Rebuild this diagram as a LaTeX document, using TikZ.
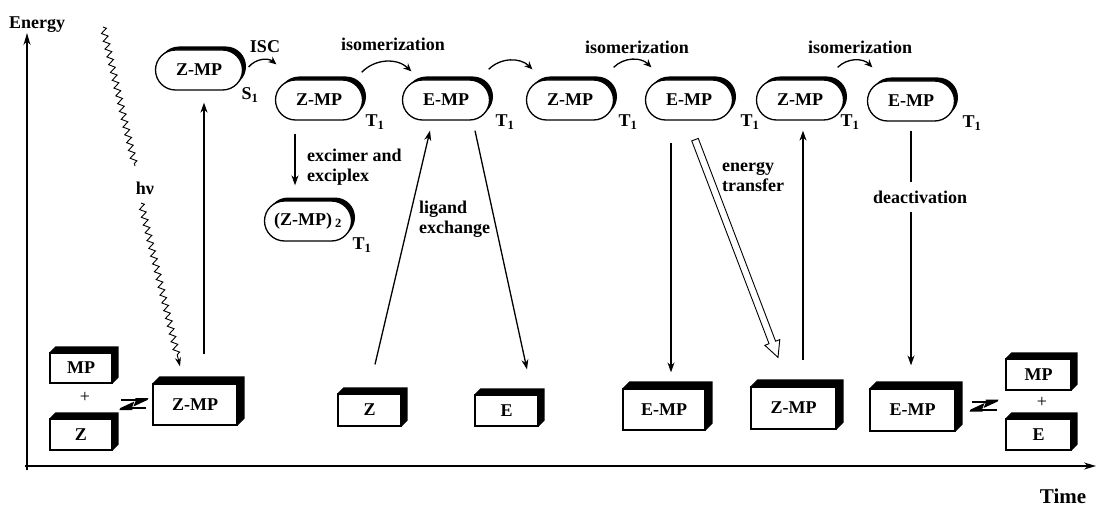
\documentclass[tikz,border=0pt]{standalone}
\usepackage{fontspec}
\setmainfont{Liberation Serif}
\usetikzlibrary{arrows.meta,calc,shadows,decorations.pathmorphing}
\newcommand\boxdepth[2]{\fill (#1.north west) -- ++(#2,-#2) -- ([shift={(#2,-#2)}]#1.north east) -- ([shift={(#2,-#2)}]#1.south east) -- (#1.south east) -- (#1.north east) -- cycle;}
\newcommand\harpoonpair[2]{%
  \draw[line width=2pt] (#1) -- ([shift={(-4,0)}]#2);
  \fill ([shift={(1,0)}]#2) -- ++(-14,6.5) -- ++(3,-7.5) -- ++(-1,0) -- ++(0,-1) -- ++(13,0) -- cycle;
  \draw[line width=2pt] ([shift={(0,8)}]#2) -- ([shift={(4,8)}]#1);
  \fill ([shift={(-1,8)}]#1) -- ++(14,-6.5) -- ++(-3,7.5) -- ++(1,0) -- ++(0,1) -- ++(-13,0) -- cycle;}
\begin{document}
\begin{tikzpicture}[x=1pt,y=-1pt,
  every node/.style={font=\bfseries\fontsize{18}{20}\selectfont, inner sep=0pt},
  pill/.style={draw, line width=1.3pt, fill=white, rounded corners=20pt, minimum width=87pt, minimum height=40pt,
    drop shadow={shadow xshift=3.5pt, shadow yshift=3.5pt, fill=black, opacity=1}},
  cube/.style={draw, line width=1.2pt, fill=white},
  arr/.style={line width=1.3pt, -{Stealth[length=10pt,width=7pt]}},
  carr/.style={line width=1.3pt, -{Stealth[length=8pt,width=7pt]}, bend left=45},
  wave/.style={line width=0.9pt, decorate, decoration={zigzag, segment length=8pt, amplitude=3pt}},
  lbl/.style={align=left, anchor=west},
]
\useasboundingbox (0,0) rectangle (1097,508);

% axes
\coordinate (yb) at (27,470);
\coordinate (yt) at (27,33);
\coordinate (xl) at (25,466);
\coordinate (xr) at (1096,466);
\draw[line width=1.3pt, -{Stealth[length=12pt,width=7pt]}] (yb) -- (yt);
\draw[line width=1.3pt, -{Stealth[length=12pt,width=7pt]}] (xl) -- (xr);
\node (energy) at (37,25) {Energy};
\node[font=\bfseries\fontsize{21}{23}\selectfont] (time) at (1063,496) {Time};

% pills
\node[pill] (s1) at (199,70) {Z-MP};
\node[pill] (zt1) at (319,100) {Z-MP};
\node[pill] (et1) at (446,100) {E-MP};
\node[pill] (zt2) at (570,100) {Z-MP};
\node[pill] (et2) at (689,100) {E-MP};
\node[pill] (zt3) at (800,100) {Z-MP};
\node[pill] (et3) at (911,101) {E-MP};
\node[pill] (dim) at (308,221) {(Z-MP)\,\textsubscript{2}};

\node (s1l) at (250,95) {S\textsubscript{1}};
\node (t1a) at (375,122) {T\textsubscript{1}};
\node (t1b) at (505,122) {T\textsubscript{1}};
\node (t1c) at (628,122) {T\textsubscript{1}};
\node (t1d) at (750,122) {T\textsubscript{1}};
\node (t1e) at (850,122) {T\textsubscript{1}};
\node (t1f) at (972,123) {T\textsubscript{1}};
\node (t1g) at (362,245) {T\textsubscript{1}};

% 3D boxes
\node[cube, minimum width=62pt, minimum height=30pt] (mpL) at (81,368) {MP};
\node[cube, minimum width=62pt, minimum height=31pt] (zL) at (81,434.5) {Z};
\node[cube, minimum width=84pt, minimum height=41pt] (zmpL) at (195,404.5) {Z-MP};
\node[cube, minimum width=63pt, minimum height=32pt] (zB) at (369.5,410) {Z};
\node[cube, minimum width=63pt, minimum height=31pt] (eB) at (506.5,410.5) {E};
\node[cube, minimum width=82pt, minimum height=41pt] (empB) at (664,409.5) {E-MP};
\node[cube, minimum width=85pt, minimum height=42pt] (zmpB) at (793.5,408) {Z-MP};
\node[cube, minimum width=85pt, minimum height=42pt] (empB2) at (912.5,410) {E-MP};
\node[cube, minimum width=65pt, minimum height=31pt] (mpR) at (1038.5,374.5) {MP};
\node[cube, minimum width=65pt, minimum height=31pt] (eR) at (1038.5,434.5) {E};
\boxdepth{mpL}{6}
\boxdepth{zL}{6}
\boxdepth{zmpL}{7}
\boxdepth{zB}{6}
\boxdepth{eB}{6}
\boxdepth{empB}{7}
\boxdepth{zmpB}{7}
\boxdepth{empB2}{7}
\boxdepth{mpR}{6}
\boxdepth{eR}{6}
\node[font=\mdseries\fontsize{18}{20}\selectfont] (plusL) at (85,397) {+};
\node[font=\mdseries\fontsize{18}{20}\selectfont] (plusR) at (1042,402) {+};

% equilibrium harpoons
\coordinate (hl1) at ([shift={(-31,-4.5)}]zmpL.west);
\coordinate (hl2) at ([shift={(-6,-4.5)}]zmpL.west);
\harpoonpair{hl1}{hl2}
\coordinate (hr1) at ([shift={(16,-8.5)}]empB2.east);
\coordinate (hr2) at ([shift={(41,-8.5)}]empB2.east);
\harpoonpair{hr1}{hr2}

% curved arrows
\draw[carr] ([shift={(5.5,-3)}]s1.east) to ([shift={(1.5,-15)}]zt1.north west);
\draw[carr] ([shift={(-1.5,-7)}]zt1.north east) to ([shift={(9.5,-8)}]et1.north west);
\draw[carr] ([shift={(-1.5,-10)}]et1.north east) to ([shift={(6.5,-10)}]zt2.north west);
\draw[carr] ([shift={(-0.5,-12)}]zt2.north east) to ([shift={(6.5,-12)}]et2.north west);
\draw[carr] ([shift={(-6.5,-12)}]zt3.north east) to ([shift={(5.5,-13)}]et3.north west);
\node (isc) at (265,47) {ISC};
\node (iso1) at (393,44) {isomerization};
\node (iso2) at (637,47) {isomerization};
\node (iso3) at (860,47) {isomerization};

% photon
\coordinate (w1a) at (103,27);
\coordinate (w1b) at (135,166);
\coordinate (w2a) at (141,203);
\draw[wave] (w1a) -- (w1b);
\draw[wave, decoration={zigzag, segment length=8pt, amplitude=3pt, post length=9pt}, -{Stealth[length=9pt,width=6pt]}] (w2a) -- ([shift={(-15,-17)}]zmpL.north);
\node (hnu) at (145,188) {hν};

% vertical arrows
\draw[arr] ([shift={(9,-29)}]zmpL.north) -- ([shift={(5,12)}]s1.south);
\draw[arr] ([shift={(-24,13)}]zt1.south) -- ([shift={(-13,-15)}]dim.north);
\node[lbl] (exc) at (307,167) {excimer and\\exciplex};
\draw[arr] ([shift={(5.5,-29)}]zB.north) -- ([shift={(-16,10)}]et1.south);
\draw[arr] ([shift={(29,10)}]et1.south) -- ([shift={(20.5,-25)}]eB.north);
\node[lbl] (lig) at (419,219) {ligand\\exchange};
\draw[arr] ([shift={(-18,22)}]et2.south) -- ([shift={(7,-16)}]empB.north);
\draw[arr] ([shift={(9.5,-26)}]zmpB.north) -- ([shift={(3,10)}]zt3.south);
\draw[arr] ([shift={(0,9)}]et3.south) -- ([shift={(-1.5,-23)}]empB2.north);
\node[fill=white, inner ysep=9pt, inner xsep=1pt] (deact) at (920,197) {deactivation};

% hollow energy transfer arrow
\coordinate (ha) at ([shift={(6,19)}]et2.south);
\coordinate (hb) at ([shift={(-15.5,-29)}]zmpB.north);
\coordinate (hh) at ($(hb)!16pt!(ha)$);
\draw[line width=0.9pt, fill=white, line join=miter]
  ($(ha)!3.5pt!90:(hb)$) -- ($(hh)!3.5pt!-90:(ha)$) -- ($(hh)!8pt!-90:(ha)$) -- (hb)
  -- ($(hh)!8pt!90:(ha)$) -- ($(hh)!3.5pt!90:(ha)$) -- ($(ha)!3.5pt!-90:(hb)$) -- cycle;
\node[lbl] (etr) at (722,177) {energy\\transfer};
\end{tikzpicture}
\end{document}
